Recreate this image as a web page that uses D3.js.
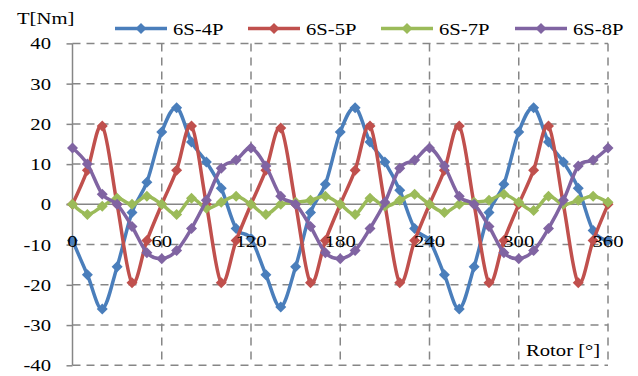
<!DOCTYPE html>
<html>
<head>
<meta charset="utf-8">
<script src="https://cdn.jsdelivr.net/npm/d3@7"></script>
<style>
  html, body { margin: 0; padding: 0; background: #fff; }
  svg text { font-family: "Liberation Serif", "Times New Roman", serif; fill: #000; }
</style>
</head>
<body>
<div class="chart"></div>
<script>
// rotor angle, every 10 degrees
const angles = d3.range(0, 361, 10);
const s4P = [-9, -17.5, -26, -15.5, -2, 5.5, 18, 24, 15.5, 10.5, 4, -6, -8.5,
  -17.5, -25.5, -15.5, -2, 5, 18, 24, 15.5, 10.5, 3.5, -6, -9,
  -17.5, -26, -15.5, -2, 5, 18, 24, 15.5, 10.5, 4, -6.5, -9];
const s5P = [0, 8.5, 19.5, 0, -19.5, -9, 0, 8.5, 19.5, 0, -19.5, -9, 0,
  8.5, 19, 0, -19.5, -9, 0, 8.5, 19.5, 0, -19.5, -9, 0,
  8.5, 19.5, 0, -19.5, -9, 0, 8.5, 19.5, 0, -19.5, -9, 0];
const s7P = [0, -2.5, -0.5, 1.5, 0, 2, 0, -2.5, 1.5, -1, 0.5, 2, 0,
  -2.5, 0, 0.5, 1, 2, 0, -2.5, 1.5, -0.5, 1, 2.5, 0,
  -2, 0, 0.5, 1, 2.5, 0.5, -1.5, 2, 0, 1, 2, 0.5];
const s8P = [14, 10, 2.5, 0, -5.5, -12, -13.5, -11.5, -6, 1, 9, 11, 14,
  9.5, 2, 0, -5.5, -12, -13.5, -11.5, -6, 0.5, 9, 11, 14,
  9.5, 2, 0, -5.5, -12, -13.5, -11.5, -6, 1, 9.5, 11, 14];
const seriesNames = ['6S-4P', '6S-5P', '6S-7P', '6S-8P'];
const seriesColors = ['#4a7ebb', '#c0504d', '#9bbb59', '#8064a2'];
const xTicks = [0, 60, 120, 180, 240, 300, 360];
const yTicks = [-40, -30, -20, -10, 0, 10, 20, 30, 40];

const width = 638, height = 376;
const fs = 17.5, sx = 1.18;
const grey = '#868686';

const svg = d3.select('.chart').append('svg')
  .attr('width', width).attr('height', height);

const x = d3.scaleLinear().domain([0, 360]).range([72.5, 608]);
const y = d3.scaleLinear().domain([-40, 40]).range([365.3, 43.4]);

function label(px, py, str, anchor) {
  return svg.append('text')
    .attr('transform', `translate(${px},${py}) scale(${sx},1)`)
    .attr('text-anchor', anchor || 'start')
    .style('font-size', fs + 'px')
    .text(str);
}

// dashed grid
const grid = svg.append('g');
grid.selectAll('.hg').data(yTicks.filter(d => d !== 0)).enter().append('line')
  .attr('x1', x(0)).attr('x2', x(360))
  .attr('y1', d => y(d)).attr('y2', d => y(d))
  .attr('stroke', grey).attr('stroke-width', 1.5).attr('stroke-dasharray', '8,6');
grid.selectAll('.vg').data(xTicks.filter(d => d !== 0)).enter().append('line')
  .attr('x1', d => x(d)).attr('x2', d => x(d))
  .attr('y1', y(40)).attr('y2', y(-40))
  .attr('stroke', grey).attr('stroke-width', 1.5).attr('stroke-dasharray', '8,6');

// axes
const yAxis = svg.append('g').attr('transform', `translate(${x(0)},0)`)
  .call(d3.axisLeft(y).tickValues(yTicks).tickSize(6).tickFormat(''));
yAxis.selectAll('line, path').attr('stroke', grey).attr('stroke-width', 1.5);
yAxis.select('.domain').attr('d', `M0,${y(40)}V${y(-40)}`);

svg.append('line')
  .attr('x1', x(0) - 6).attr('x2', x(360))
  .attr('y1', y(0)).attr('y2', y(0))
  .attr('stroke', grey).attr('stroke-width', 1.5);

yTicks.forEach(t => label(51, y(t) + 6, String(t), 'end'));

// series
const allSeries = [s4P, s5P, s7P, s8P];
const line = d3.line()
  .x((d, i) => x(angles[i]))
  .y(d => y(d))
  .curve(d3.curveCardinal.tension(0));
const diamond = 'M0,-5.5L5.5,0L0,5.5L-5.5,0Z';

allSeries.forEach((vals, k) => {
  const g = svg.append('g');
  g.append('path').datum(vals)
    .attr('d', line)
    .attr('fill', 'none')
    .attr('stroke', seriesColors[k])
    .attr('stroke-width', 3.5);
  g.selectAll('path.m').data(vals).enter().append('path')
    .attr('class', 'm')
    .attr('d', diamond)
    .attr('transform', (d, i) => `translate(${x(angles[i])},${y(d)})`)
    .attr('fill', seriesColors[k]);
});

// x tick labels sit next to the zero line
xTicks.forEach(t => label(x(t), 247, String(t), 'middle'));

// titles
label(17, 24, 'T[Nm]');
label(526, 356, 'Rotor [°]');

// legend
const legX = [115, 248, 381, 515];
seriesNames.forEach((name, k) => {
  svg.append('line')
    .attr('x1', legX[k]).attr('x2', legX[k] + 52)
    .attr('y1', 28.5).attr('y2', 28.5)
    .attr('stroke', seriesColors[k]).attr('stroke-width', 3.5);
  svg.append('path')
    .attr('d', diamond)
    .attr('transform', `translate(${legX[k] + 26},28.5)`)
    .attr('fill', seriesColors[k]);
  label(legX[k] + 58, 35, name);
});
</script>
</body>
</html>
